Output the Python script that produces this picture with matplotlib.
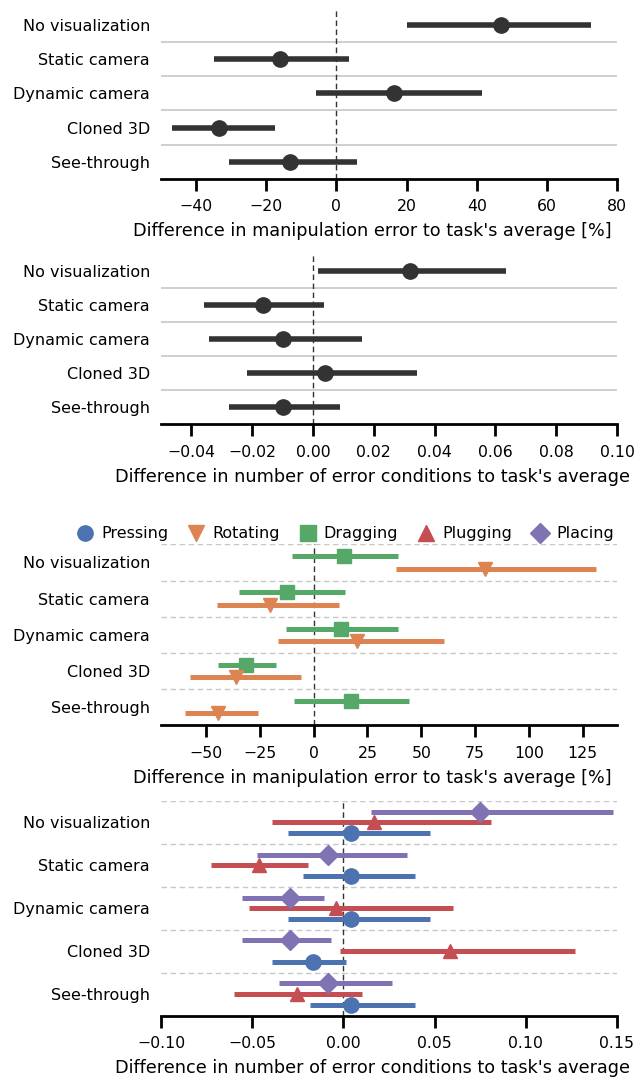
import numpy as np
import matplotlib
matplotlib.use("Agg")
import matplotlib.pyplot as plt
from matplotlib.lines import Line2D

# Conditions (rows, top to bottom)
conditions = ["No visualization", "Static camera", "Dynamic camera", "Cloned 3D", "See-through"]

# Panel 1 : manipulation error [%]
err_mean = [46.9, -16.2, 16.3, -33.5, -13.3]
err_lo = [20.0, -35.0, -5.9, -46.8, -30.7]
err_hi = [72.7, 3.5, 41.4, -17.4, 5.9]

# Panel 2 : number of error conditions
cond_mean = [0.032, -0.0166, -0.0098, 0.0041, -0.0098]
cond_lo = [0.0018, -0.0359, -0.0343, -0.0218, -0.0275]
cond_hi = [0.0634, 0.0035, 0.016, 0.0341, 0.009]

# Panel 3 : manipulation error per task [%]
drag_mean = [13.9, -12.4, 12.5, -31.7, 17.3]
drag_lo = [-9.9, -34.6, -12.7, -44.7, -9.1]
drag_hi = [39.2, 14.4, 39.2, -17.5, 44.5]
rot_mean = [79.8, -20.3, 20.0, -35.9, -44.5]
rot_lo = [38.2, -45.1, -16.5, -57.6, -59.7]
rot_hi = [131.2, 11.8, 60.5, -5.9, -25.7]

# Panel 4 : error conditions per task
place_mean = [0.0748, -0.0086, -0.0293, -0.0293, -0.0086]
place_lo = [0.0152, -0.0474, -0.0558, -0.0558, -0.0351]
place_hi = [0.1478, 0.0351, -0.0109, -0.0068, 0.0265]
plug_mean = [0.0166, -0.046, -0.0041, 0.0585, -0.0252]
plug_lo = [-0.0392, -0.0726, -0.0517, -0.0016, -0.0601]
plug_hi = [0.081, -0.0193, 0.0601, 0.1268, 0.01]
press_mean = [0.0041, 0.0041, 0.0041, -0.0166, 0.0041]
press_lo = [-0.0306, -0.0224, -0.0306, -0.0392, -0.0181]
press_hi = [0.0476, 0.0392, 0.0476, 0.0016, 0.0392]

tasks = ["Pressing", "Rotating", "Dragging", "Plugging", "Placing"]
task_markers = ["o", "v", "s", "^", "D"]
task_colors = ["#4C72B0", "#DD8452", "#55A868", "#C44E52", "#8172B3"]

FS = 11.3
FS_LAB = 12.7
plt.rcParams["font.family"] = "DejaVu Sans"
plt.rcParams["font.size"] = FS

fig = plt.figure(figsize=(6.44, 10.83), dpi=100)
L, W = 0.25, 0.708
ax1 = fig.add_axes([L, 0.8349, W, 0.1578])
ax2 = fig.add_axes([L, 0.6081, W, 0.1577])
ax3 = fig.add_axes([L, 0.3302, W, 0.1672])
ax4 = fig.add_axes([L, 0.0623, W, 0.1981])

y = np.arange(len(conditions))


def style(ax, xlim, xticks, xlabel, dashed):
    ax.set_xlim(*xlim)
    ax.set_ylim(4.5, -0.5)
    ax.set_xticks(xticks)
    ax.set_yticks(y)
    ax.set_yticklabels(conditions, fontsize=11.5)
    ax.set_xlabel(xlabel, fontsize=FS_LAB, labelpad=6)
    ax.xaxis.label.set_x(0.464)  # label sits a bit left of the axes centre
    for s in ["top", "right", "left"]:
        ax.spines[s].set_visible(False)
    ax.spines["bottom"].set_linewidth(2.0)
    ax.tick_params(axis="x", length=8.5, width=2.0, pad=6, labelsize=FS)
    ax.tick_params(axis="y", length=0, pad=8)
    if dashed:
        for b in [-0.5, 0.5, 1.5, 2.5, 3.5]:
            ax.axhline(b, color="#c8c8c8", lw=1.0, ls=(0, (4, 2.5)), zorder=0)
    else:
        for b in [0.5, 1.5, 2.5, 3.5]:
            ax.axhline(b, color="#cccccc", lw=1.3, zorder=0)
    ax.axvline(0, color="#333333", lw=1.0, ls=(0, (4, 2.5)), zorder=1)


def points(ax, mean, lo, hi, off, color, marker, lw, ms):
    yy = y + off
    for i in range(len(mean)):
        ax.plot([lo[i], hi[i]], [yy[i], yy[i]], color=color, lw=lw,
                solid_capstyle="butt", zorder=2)
    ax.plot(mean, yy, ls="none", marker=marker, color=color, ms=ms,
            mec=color, zorder=3)


dark = "#333333"
points(ax1, err_mean, err_lo, err_hi, 0, dark, "o", 4.0, 11)
style(ax1, (-50, 80), [-40, -20, 0, 20, 40, 60, 80],
      "Difference in manipulation error to task's average [%]", False)

points(ax2, cond_mean, cond_lo, cond_hi, 0, dark, "o", 4.0, 11)
style(ax2, (-0.05, 0.10), [-0.04, -0.02, 0.0, 0.02, 0.04, 0.06, 0.08, 0.10],
      "Difference in number of error conditions to task's average", False)
ax2.set_xticklabels(["\u22120.04", "\u22120.02", "0.00", "0.02", "0.04",
                     "0.06", "0.08", "0.10"])

points(ax3, drag_mean, drag_lo, drag_hi, -0.17, task_colors[2], "s", 3.6, 10)
points(ax3, rot_mean, rot_lo, rot_hi, 0.17, task_colors[1], "v", 3.6, 10.5)
style(ax3, (-71, 141), [-50, -25, 0, 25, 50, 75, 100, 125],
      "Difference in manipulation error to task's average [%]", True)

points(ax4, place_mean, place_lo, place_hi, -0.25, task_colors[4], "D", 3.6, 10)
points(ax4, plug_mean, plug_lo, plug_hi, 0.0, task_colors[3], "^", 3.6, 10.5)
points(ax4, press_mean, press_lo, press_hi, 0.25, task_colors[0], "o", 3.6, 11)
style(ax4, (-0.10, 0.15), [-0.10, -0.05, 0.0, 0.05, 0.10, 0.15],
      "Difference in number of error conditions to task's average", True)
ax4.set_xticklabels(["\u22120.10", "\u22120.05", "0.00", "0.05", "0.10", "0.15"])

handles = [Line2D([], [], ls="none", marker=m, color=c, ms=11 if m != "D" else 10)
           for m, c in zip(task_markers, task_colors)]
ax3.legend(handles, tasks, loc="lower right", bbox_to_anchor=(1.0, 1.0),
           ncol=5, frameon=False, fontsize=11.5, handletextpad=0.4,
           columnspacing=1.15, handlelength=1.2, borderaxespad=0.1, borderpad=0.1)

fig.savefig("out.png", dpi=100)
